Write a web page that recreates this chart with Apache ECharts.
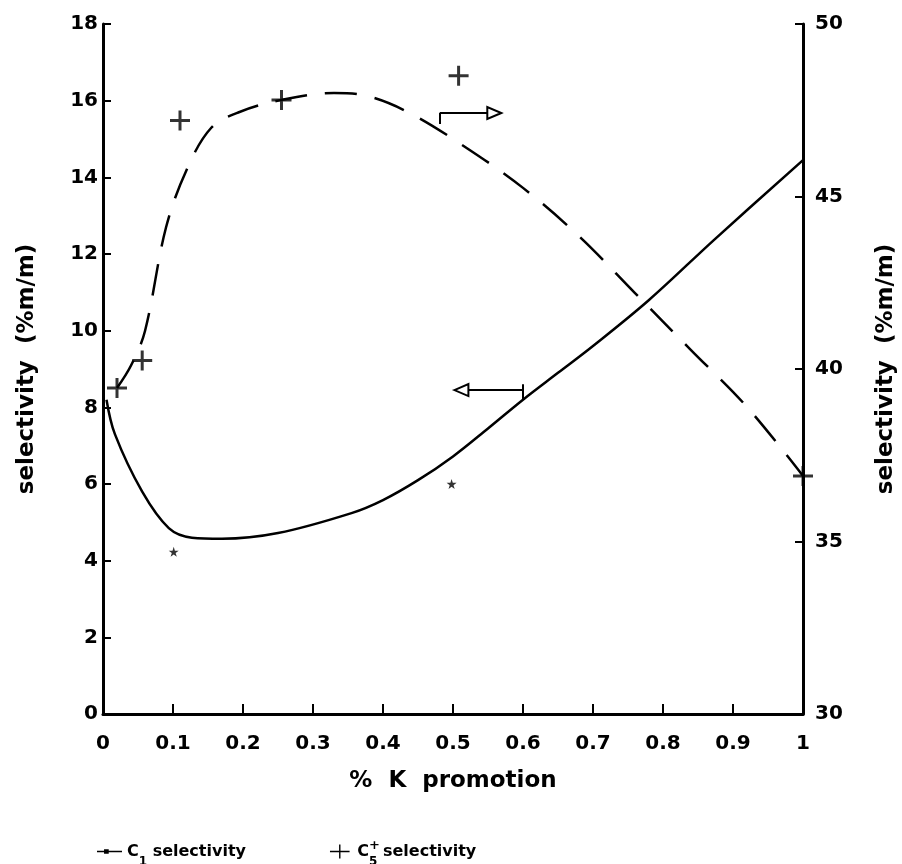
<!DOCTYPE html>
<html>
<head>
<meta charset="utf-8">
<script src="https://cdn.jsdelivr.net/npm/echarts@6/dist/echarts.min.js"></script>
<style>
  html, body { margin: 0; padding: 0; background: #fff; }
  #chart { width: 902px; height: 864px; }
</style>
</head>
<body>
<div id="chart"></div>
<script>
// K loading (% K promotion) on the x axis
const xTickValues = [0, 0.1, 0.2, 0.3, 0.4, 0.5, 0.6, 0.7, 0.8, 0.9, 1];

// C1 selectivity, fitted curve (left axis, %m/m)
const c1CurveX = [0.005, 0.017, 0.056, 0.094, 0.127, 0.17, 0.25, 0.355, 0.4, 0.45, 0.5, 0.55, 0.6, 0.65, 0.7, 0.78, 0.873, 1.0];
const c1CurveY = [8.2, 7.3, 5.8, 4.85, 4.6, 4.57, 4.72, 5.24, 5.58, 6.1, 6.72, 7.45, 8.2, 8.9, 9.6, 10.8, 12.37, 14.45];
// C1 selectivity, measured points
const c1PointX = [0.056, 0.25];
const c1PointY = [5.8, 4.72];
const c1StarX = [0.101, 0.498];
const c1StarY = [4.23, 6.0];

// C5+ selectivity, fitted curve (right axis, %m/m)
const c5CurveX = [0.02, 0.04, 0.06, 0.09, 0.12, 0.155, 0.195, 0.255, 0.33, 0.38, 0.44, 0.52, 0.6, 0.68, 0.76, 0.84, 0.92, 1.0];
const c5CurveY = [39.45, 40.1, 41.1, 44.1, 45.8, 47.0, 47.45, 47.8, 48.0, 47.9, 47.4, 46.4, 45.25, 43.85, 42.2, 40.55, 38.9, 36.9];
// C5+ selectivity, measured points
const c5PointX = [0.02, 0.056, 0.11, 0.255, 0.508, 1.0];
const c5PointY = [39.45, 40.25, 47.2, 47.8, 48.5, 36.9];

// Arrows telling which axis each curve belongs to
const c1ArrowFrom = [0.60, 8.45], c1ArrowTo = [0.512, 8.45], c1ArrowStub = [8.2, 8.6];
const c5ArrowFrom = [0.481, 47.42], c5ArrowTo = [0.559, 47.42], c5ArrowStub = [47.1, 47.42];

const FONT = 'DejaVu Sans';
const zip = (xs, ys) => xs.map((x, i) => [x, ys[i]]);

const PLUS = 'path://M0 8.5h20v3H0z M8.5 0h3v20h-3z';
const STAR = 'path://M10 0L12.4 7.3H20L13.8 11.8L16.2 19L10 14.5L3.8 19L6.2 11.8L0 7.3H7.6Z';

const chart = echarts.init(document.getElementById('chart'), null, { renderer: 'canvas' });

const axisText = { color: '#000', fontFamily: FONT, fontWeight: 'bold', fontSize: 20 };
const nameText = { color: '#000', fontFamily: FONT, fontWeight: 'bold', fontSize: 23 };

chart.setOption({
  backgroundColor: '#fff',
  animation: false,
  grid: { left: 103, right: 99, top: 24, bottom: 150, outerBoundsMode: 'none', containLabel: false },
  xAxis: {
    type: 'value', min: 0, max: 1, interval: 0.1,
    name: '%  K  promotion', nameLocation: 'middle', nameGap: 56,
    nameTextStyle: nameText,
    axisLine: { lineStyle: { color: '#000', width: 3 } },
    axisTick: { inside: true, length: 10, lineStyle: { color: '#000', width: 2 } },
    axisLabel: Object.assign({ margin: 20, formatter: v => (v === 0 || v === 1) ? String(v) : v.toFixed(1) }, axisText),
    splitLine: { show: false }
  },
  yAxis: [
    {
      type: 'value', min: 0, max: 18, interval: 2, position: 'left',
      name: 'selectivity  (%m/m)', nameLocation: 'middle', nameGap: 64, nameRotate: 90,
      nameTextStyle: nameText,
      axisLine: { show: true, lineStyle: { color: '#000', width: 3 } },
      axisTick: { show: true, inside: true, length: 8, lineStyle: { color: '#000', width: 2 } },
      axisLabel: Object.assign({ margin: 5 }, axisText),
      splitLine: { show: false }
    },
    {
      type: 'value', min: 30, max: 50, interval: 5, position: 'right',
      name: 'selectivity  (%m/m)', nameLocation: 'middle', nameGap: 72, nameRotate: 90,
      nameTextStyle: nameText,
      axisLine: { show: true, lineStyle: { color: '#000', width: 3 } },
      axisTick: { show: true, inside: true, length: 8, lineStyle: { color: '#000', width: 2 } },
      axisLabel: Object.assign({ margin: 12 }, axisText),
      splitLine: { show: false }
    }
  ],
  legend: {
    left: 92, top: 834, itemGap: 84,
    textStyle: { color: '#000', fontFamily: FONT, fontWeight: 'bold', fontSize: 16,
      rich: {
        b: { fontFamily: FONT, fontWeight: 'bold', fontSize: 16, color: '#000' },
        s: { fontFamily: FONT, fontWeight: 'bold', fontSize: 12, color: '#000', verticalAlign: 'bottom', padding: [0, 0, -8, 0] },
        p: { fontFamily: FONT, fontWeight: 'bold', fontSize: 13, color: '#000', width: 0, padding: [-12, 0, 0, 0] }
      }
    },
    data: [
      { name: 'C1 selectivity', icon: 'path://M0 4h32v2H0z M9 2h6v6H9z', itemWidth: 32, itemHeight: 10 },
      { name: 'C5+ selectivity', icon: 'path://M0 9h28v2H0z M13 0h2v20h-2z', itemWidth: 28, itemHeight: 20 }
    ],
    formatter: n => n === 'C1 selectivity' ? '{b|C}{s|1}{b| selectivity}' : '{b|C}{p|+}{s|5}{b| selectivity}'
  },
  series: [
    {
      name: 'C1 selectivity', type: 'line', yAxisIndex: 0,
      data: zip(c1CurveX, c1CurveY), smooth: 0.35,
      showSymbol: false, symbol: 'none', color: '#000',
      lineStyle: { color: '#000', width: 2.5 },
      markLine: {
        silent: true, symbol: 'none', label: { show: false },
        lineStyle: { color: '#000', width: 2, type: 'solid' },
        data: [
          [{ coord: c1ArrowFrom, symbol: 'none' }, { coord: c1ArrowTo, symbol: 'emptyTriangle', symbolSize: [12, 14] }],
          [{ coord: [c1ArrowFrom[0], c1ArrowStub[0]] }, { coord: [c1ArrowFrom[0], c1ArrowStub[1]] }]
        ]
      }
    },
    {
      name: 'C1 points', type: 'scatter', yAxisIndex: 0,
      data: zip(c1PointX, c1PointY), symbol: 'emptyRect', symbolSize: 7,
      itemStyle: { color: '#fff', borderColor: '#000', borderWidth: 2 }
    },
    {
      name: 'C1 points*', type: 'scatter', yAxisIndex: 0,
      data: zip(c1StarX, c1StarY), symbol: STAR, symbolSize: 10,
      itemStyle: { color: '#000' }
    },
    {
      name: 'C5+ selectivity', type: 'line', yAxisIndex: 1,
      data: zip(c5CurveX, c5CurveY), smooth: 0.35,
      showSymbol: false, symbol: 'none', color: '#000',
      lineStyle: { color: '#000', width: 2.5, type: [32, 18] },
      markLine: {
        silent: true, symbol: 'none', label: { show: false },
        lineStyle: { color: '#000', width: 2, type: 'solid' },
        data: [
          [{ coord: c5ArrowFrom, symbol: 'none' }, { coord: c5ArrowTo, symbol: 'emptyTriangle', symbolSize: [12, 14] }],
          [{ coord: [c5ArrowFrom[0], c5ArrowStub[0]] }, { coord: [c5ArrowFrom[0], c5ArrowStub[1]] }]
        ]
      }
    },
    {
      name: 'C5+ points', type: 'scatter', yAxisIndex: 1,
      data: zip(c5PointX, c5PointY), symbol: PLUS, symbolSize: 20,
      itemStyle: { color: '#000' }
    }
  ]
});
</script>
</body>
</html>
